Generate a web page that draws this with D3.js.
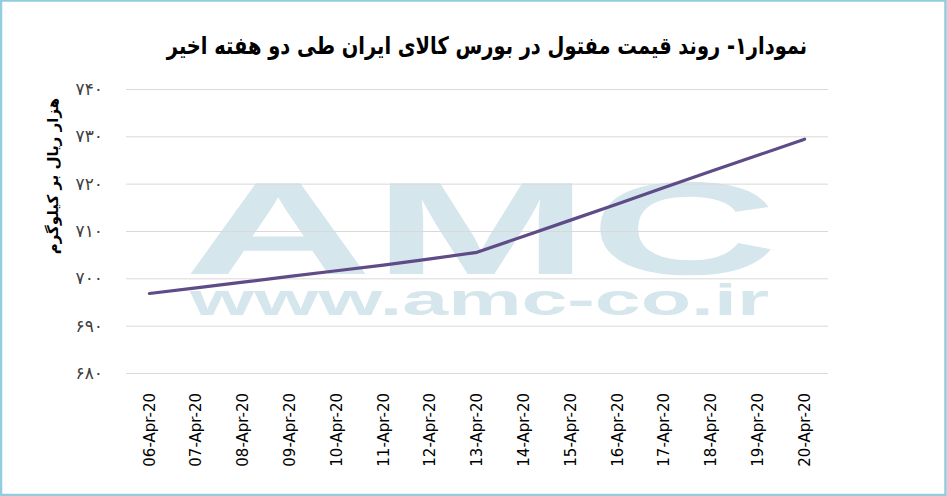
<!DOCTYPE html>
<html><head><meta charset="utf-8">
<script src="https://cdn.jsdelivr.net/npm/d3@7"></script>
<style>
html,body{margin:0;padding:0;background:#fff;}
svg{display:block;}
</style></head>
<body>
<svg id="chart" width="947" height="496"></svg>
<script>
const title = "نمودار۱- روند قیمت مفتول در بورس کالای ایران طی دو هفته اخیر";
const yTitle = "هزار ریال بر کیلوگرم";
const dates = ["06-Apr-20","07-Apr-20","08-Apr-20","09-Apr-20","10-Apr-20","11-Apr-20","12-Apr-20","13-Apr-20","14-Apr-20","15-Apr-20","16-Apr-20","17-Apr-20","18-Apr-20","19-Apr-20","20-Apr-20"];
const prices = [696.8,698.0,699.2,700.4,701.6,702.8,704.1,705.5,708.9,712.3,715.7,719.2,722.6,726.0,729.4];
const yTicks = [680,690,700,710,720,730,740];

const W = 947, H = 496;
const svg = d3.select("#chart");
const faDigits = s => String(s).replace(/\d/g, d => "۰۱۲۳۴۵۶۷۸۹"[d]);

// border
svg.append("rect").attr("x",1).attr("y",0.5).attr("width",W-2.5).attr("height",H-1.5)
  .attr("fill","#fff").attr("stroke","#92cddf").attr("stroke-width",2.5);

const x = d3.scaleBand().domain(dates).range([126,828]);
const y = d3.scaleLinear().domain([680,740]).range([373,89]);

// watermark (one text element, two lines)
const wm = svg.append("text").attr("font-family","Liberation Sans, Arial, sans-serif").attr("font-weight","bold")
  .attr("fill","#d5e6ec");
wm.append("tspan").attr("x",184).attr("y",274).attr("font-size",132)
  .attr("textLength",594).attr("lengthAdjust","spacingAndGlyphs").text("AMC");
wm.append("tspan").attr("x",190).attr("y",315).attr("font-size",44)
  .attr("textLength",579).attr("lengthAdjust","spacingAndGlyphs").text("www.amc-co.ir");

// gridlines
svg.append("g").selectAll("line").data(yTicks).join("line")
  .attr("x1",126).attr("x2",828).attr("y1",d=>y(d)+0.5).attr("y2",d=>y(d)+0.5)
  .attr("stroke","#d9d9d9").attr("stroke-width",1);

// y axis labels
const yAxis = d3.axisLeft(y).tickValues(yTicks).tickSize(0).tickPadding(0).tickFormat(faDigits);
const gy = svg.append("g").attr("transform","translate(103,0)").call(yAxis);
gy.select(".domain").remove();
gy.selectAll("text").attr("font-family","DejaVu Sans, sans-serif").attr("font-size",17).attr("fill","#404040");

// x axis labels
const xAxis = d3.axisBottom(x).tickSize(0).tickPadding(0);
const gx = svg.append("g").attr("transform","translate(0,390)").call(xAxis);
gx.select(".domain").remove();
gx.selectAll("text").attr("font-family","DejaVu Sans, sans-serif").attr("font-size",15).attr("fill","#000")
  .attr("transform","rotate(-90)").attr("text-anchor","end").attr("dy","0.35em").attr("x",-3).attr("y",0);

// line
const line = d3.line().x((d,i)=>x(dates[i])+x.bandwidth()/2).y(d=>y(d));
svg.append("path").datum(prices).attr("d",line).attr("fill","none")
  .attr("stroke","#5e4b87").attr("stroke-width",3.2).attr("stroke-linecap","round").attr("stroke-linejoin","round");

// title
svg.append("text").attr("transform","translate(487,54) scale(0.81,1)").attr("text-anchor","middle").attr("direction","rtl")
  .attr("font-family","DejaVu Sans, sans-serif").attr("font-weight","bold").attr("font-size",24)
  .attr("fill","#000").text(title);

// y title
svg.append("text").attr("transform","translate(53,176) rotate(-90)").attr("text-anchor","middle").attr("direction","rtl")
  .attr("dy","0.35em").attr("font-family","DejaVu Sans, sans-serif").attr("font-weight","bold").attr("font-size",15)
  .attr("fill","#000").text(yTitle);
</script>
</body></html>
